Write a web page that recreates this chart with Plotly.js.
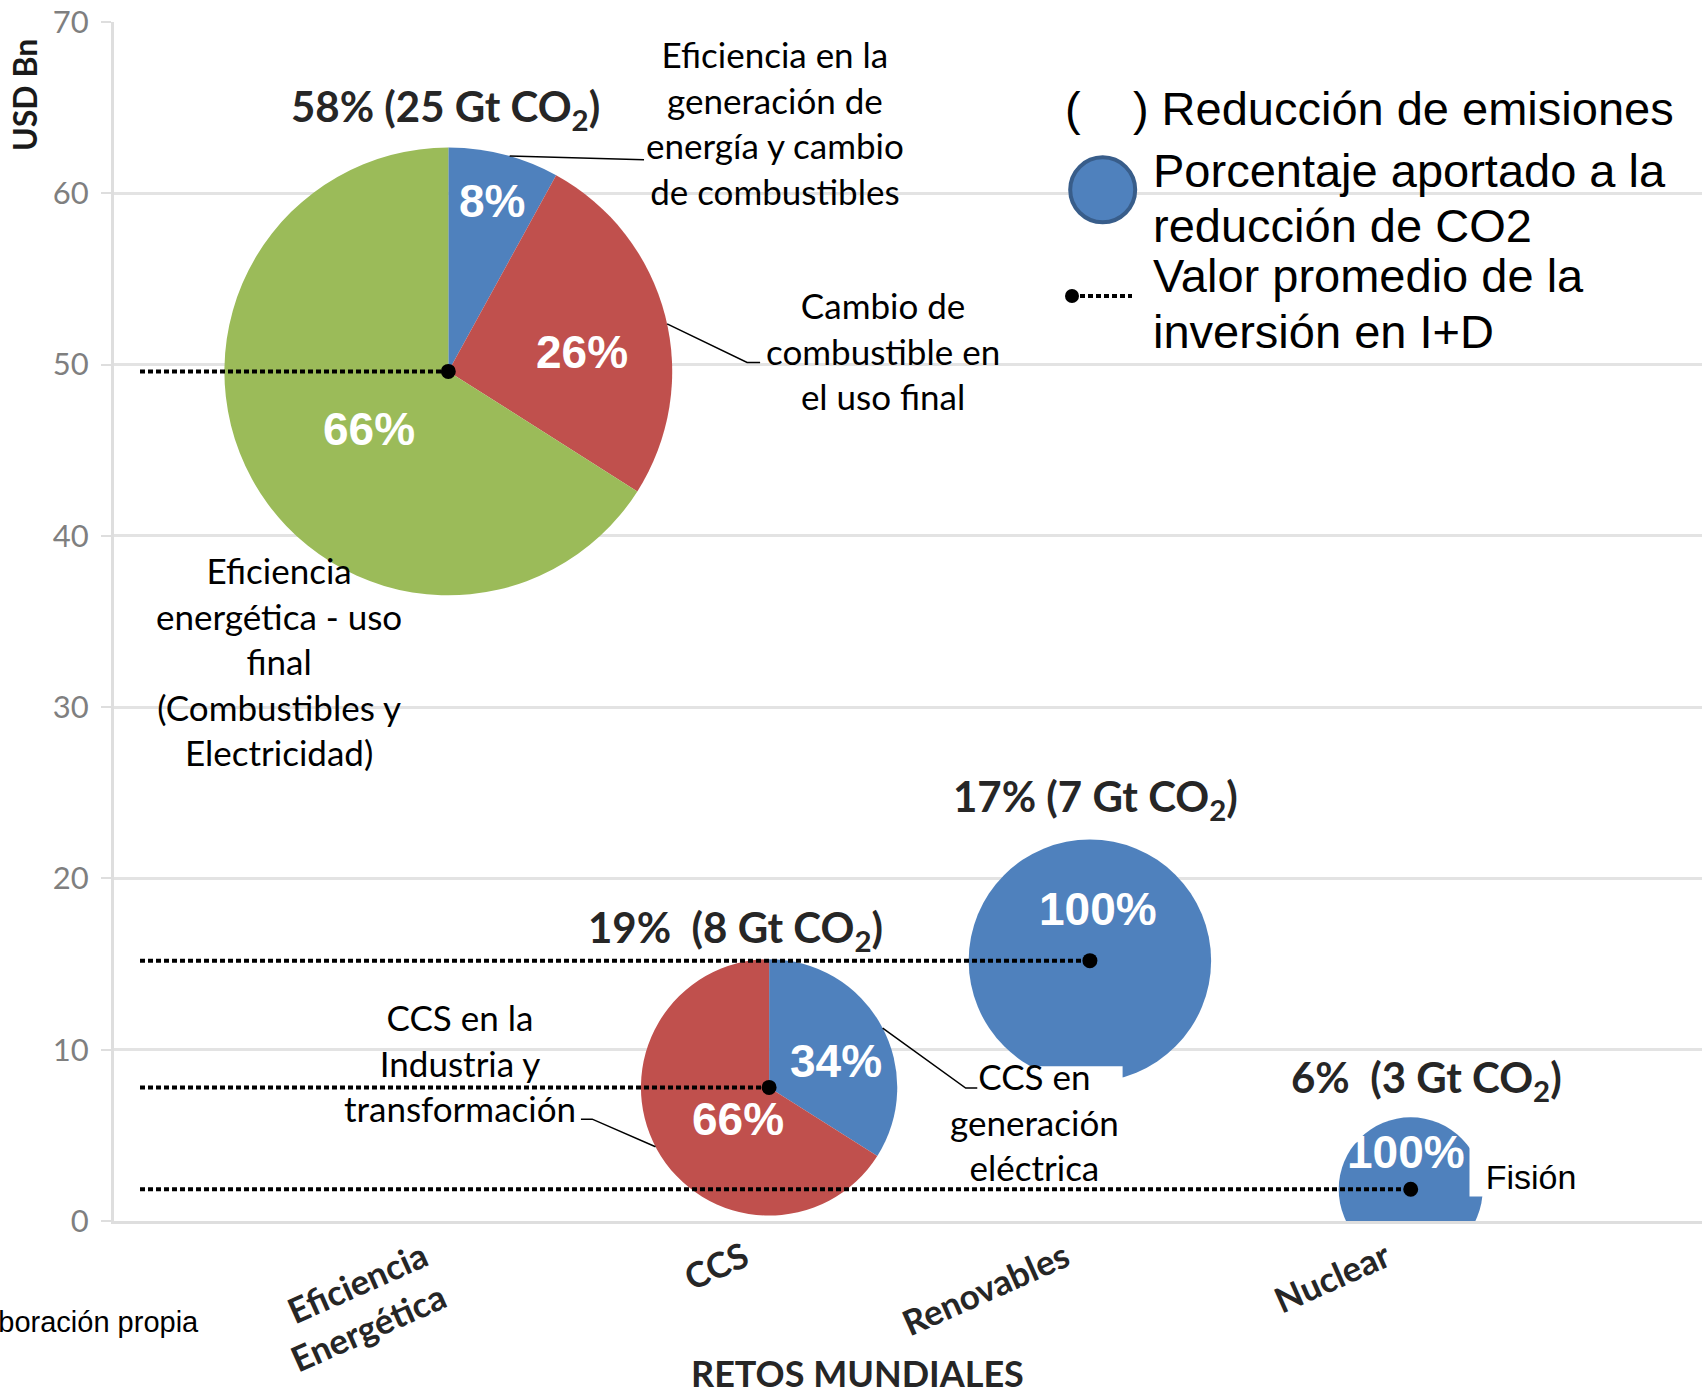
<!DOCTYPE html>
<html>
<head>
<meta charset="utf-8">
<script src="https://cdn.plot.ly/plotly-3.0.1.min.js"></script>
<style>
html,body{margin:0;padding:0;background:#fff;}
#chart{width:1702px;height:1394px;}
</style>
</head>
<body>
<div id="chart"></div>
<script>
// ================= DATA =================
const categories = ['Eficiencia<br>Energética', 'CCS', 'Renovables', 'Nuclear'];
const investment = [49.6, 7.8, 15.2, 1.85];      // USD Bn – valor promedio de la inversión en I+D
const shareReduction = [58, 19, 17, 6];          // % aportado a la reducción de emisiones
const gtReduction = [25, 8, 7, 3];               // Gt CO2
const effSliceLabels = ['Eficiencia en la generación de energía y cambio de combustibles',
                        'Cambio de combustible en el uso final',
                        'Eficiencia energética - uso final (Combustibles y Electricidad)'];
const effSliceValues = [8, 26, 66];
const ccsSliceLabels = ['CCS en generación eléctrica', 'CCS en la Industria y transformación'];
const ccsSliceValues = [34, 66];
const renSliceLabels = ['Renovables'];
const renSliceValues = [100];
const nucSliceLabels = ['Fisión'];
const nucSliceValues = [100];
const yTickVals = [0, 10, 20, 30, 40, 50, 60, 70];
const effLabelText = ['Eficiencia en la<br>generación de<br>energía y cambio<br>de combustibles',
                      'Cambio de<br>combustible en<br>el uso final',
                      'Eficiencia<br>energética - uso<br>final<br>(Combustibles y<br>Electricidad)'];
const ccsLabelText = ['CCS en<br>generación<br>eléctrica', 'CCS en la<br>Industria y<br>transformación'];
const nucLabelText = ['Fisión'];

// ================= STYLE / GEOMETRY =================
const BLUE = '#4F81BD', RED = '#C0504D', GREEN = '#9BBB59';
const W = 1702, H = 1394;
const M = {l: 114, r: 0, t: 22, b: 173, pad: 0};
const PW = W - M.l - M.r, PH = H - M.t - M.b;
const catStartPx = 448.3, catStepPx = 320.8;
const xRange = [-(catStartPx - M.l) / catStepPx, 0];
xRange[1] = xRange[0] + PW / catStepPx;
const yRange = [0, 70];
const xpx = v => M.l + (v - xRange[0]) / (xRange[1] - xRange[0]) * PW;
const ypx = v => M.t + (1 - (v - yRange[0]) / (yRange[1] - yRange[0])) * PH;
const pX = px => (px - M.l) / PW;
const pY = py => 1 - (py - M.t) / PH;
const K = 29.4;                                   // bubble area proportional to share
const radius = i => K * Math.sqrt(shareReduction[i]);
const centre = i => [xpx(i), ypx(investment[i])];

const groups = [
  {cat: 0, labels: effSliceLabels, values: effSliceValues, colors: [BLUE, RED, GREEN],
   pctOff: [[43.8, -170], [133.5, -19], [-79.5, 57.7]],
   text: effLabelText, textOff: [[326.5, -248.5], [434.5, -20.5], [-169.5, 290]],
   textMask: [null, null, null], textBox: [null, null, null]},
  {cat: 1, labels: ccsSliceLabels, values: ccsSliceValues, colors: [BLUE, RED],
   pctOff: [[66.5, -26.7], [-31, 32]],
   text: ccsLabelText, textOff: [[265.5, 33.8], [-308.9, -24.7]],
   textMask: [[-92, 88, -55, 62], null], textBox: [null, null]},
  {cat: 2, labels: renSliceLabels, values: renSliceValues, colors: [BLUE],
   pctOff: [[8.3, -51.7]], text: [], textOff: [], textMask: [], textBox: []},
  {cat: 3, labels: nucSliceLabels, values: nucSliceValues, colors: [BLUE],
   pctOff: [[-5, -37.6]], text: nucLabelText, textOff: [[120.5, -32]],
   textMask: [null], textBox: [{w: 122, h: 78, valign: 'bottom'}]}
];
const titleOff = [[-3, -39], [-34, -29], [6, -40], [16, -37]];   // relative to bubble top
const titleGap = [' ', '\u00a0 ', ' ', '\u00a0 '];
const leaders = [
  {cat: 0, angle: 15.9, pts: [[134.4, 3.6]]},
  {cat: 0, angle: 77.75, pts: [[80, 38.6], [93, 38.6]]},
  {cat: 1, angle: 62.4, pts: [[83, 60], [94.6, 60]]},
  {cat: 1, angle: 242.4, pts: [[-63.3, -27.6], [-74.6, -27.6]]}
];
const lineStartPx = 140;

const traces = [];
const shapes = [];
const annotations = [];

// ---- white masks behind some labels (drawn first, under the lines) ----
groups.forEach(g => {
  const [cx, cy] = centre(g.cat);
  g.textMask.forEach((m, k) => {
    if (!m) return;
    const lx = cx + g.textOff[k][0], ly = cy + g.textOff[k][1];
    shapes.push({type: 'rect', xref: 'paper', yref: 'paper',
      x0: pX(lx + m[0]), x1: pX(lx + m[1]), y0: pY(ly + m[3]), y1: pY(ly + m[2]),
      fillcolor: '#ffffff', line: {width: 0}, layer: 'above'});
  });
});

// ---- pies (multi-slice) & full bubbles ----
const fullX = [], fullY = [], fullS = [];
groups.forEach(g => {
  const [cx, cy] = centre(g.cat);
  const r = radius(g.cat);
  if (g.values.length > 1) {
    traces.push({
      type: 'pie', labels: g.labels, values: g.values, sort: false,
      direction: 'clockwise', rotation: 0, textinfo: 'none', showlegend: false,
      hoverinfo: 'label+percent',
      marker: {colors: g.colors, line: {width: 0}},
      domain: {x: [pX(cx - r), pX(cx + r)], y: [pY(cy + r), pY(cy - r)]}
    });
  } else {
    fullX.push(g.cat); fullY.push(investment[g.cat]); fullS.push(2 * r);
  }
});
traces.unshift({
  type: 'scatter', mode: 'markers', x: fullX, y: fullY, cliponaxis: true,
  marker: {size: fullS, sizemode: 'diameter', color: BLUE, opacity: 1, line: {width: 0}},
  hoverinfo: 'skip', showlegend: false
});

// ---- leader lines ----
leaders.forEach(ld => {
  const [cx, cy] = centre(ld.cat);
  const r = radius(ld.cat);
  const a = ld.angle * Math.PI / 180;
  const ax = cx + r * Math.sin(a), ay = cy - r * Math.cos(a);
  let path = `M${pX(ax)},${pY(ay)}`;
  ld.pts.forEach(p => { path += ` L${pX(ax + p[0])},${pY(ay + p[1])}`; });
  shapes.push({type: 'path', xref: 'paper', yref: 'paper', path: path,
    line: {color: '#000', width: 1.5}, layer: 'above'});
});

// ---- dotted average lines & dots ----
const lineStartX = xRange[0] + (lineStartPx - M.l) / catStepPx;
investment.forEach((v, i) => {
  shapes.push({type: 'line', xref: 'x', yref: 'y', x0: lineStartX, x1: i, y0: v, y1: v,
    line: {color: '#000', width: 4, dash: '5px,3px'}, layer: 'above'});
  shapes.push({type: 'circle', xref: 'x', yref: 'y', xsizemode: 'pixel', ysizemode: 'pixel',
    xanchor: i, yanchor: v, x0: -7.5, x1: 7.5, y0: -7.5, y1: 7.5,
    fillcolor: '#000', line: {width: 0}, layer: 'above'});
});

// ---- texts on / around bubbles ----
groups.forEach(g => {
  const [cx, cy] = centre(g.cat);
  const r = radius(g.cat);
  const sum = g.values.reduce((s, v) => s + v, 0);
  const i = g.cat;
  annotations.push({xref: 'paper', yref: 'paper', x: pX(cx + titleOff[i][0]), y: pY(cy - r + titleOff[i][1]),
    xanchor: 'center', yanchor: 'middle', showarrow: false,
    text: `${shareReduction[i]}%${titleGap[i]}(${gtReduction[i]} Gt CO<sub>2</sub>)`,
    font: {family: 'Lato', size: 42, color: '#262626', weight: 700}});
  g.values.forEach((v, k) => {
    annotations.push({xref: 'paper', yref: 'paper', x: pX(cx + g.pctOff[k][0]), y: pY(cy + g.pctOff[k][1]),
      xanchor: 'center', yanchor: 'middle', showarrow: false,
      text: Math.round(v / sum * 100) + '%',
      font: {family: 'Liberation Sans, Arial', size: 46, color: '#ffffff', weight: 700}});
  });
  g.text.forEach((t, k) => {
    const a = {xref: 'paper', yref: 'paper', x: pX(cx + g.textOff[k][0]), y: pY(cy + g.textOff[k][1]),
      xanchor: 'center', yanchor: 'middle', showarrow: false, align: 'center', text: t,
      font: {family: g.cat === 3 ? 'Liberation Sans, Arial' : 'Lato', size: g.cat === 3 ? 34 : 35, color: '#000'}};
    const b = g.textBox[k];
    if (b) { a.bgcolor = '#ffffff'; a.width = b.w; a.height = b.h; a.valign = b.valign; a.borderpad = 0; }
    annotations.push(a);
  });
});

// ---- legend ----
const LF = {family: 'Liberation Sans, Arial', size: 47, color: '#000'};
const legendLines = [
  ['(\u00a0\u00a0\u00a0\u00a0) Reducción de emisiones', 1063, 108.5],
  ['Porcentaje aportado a la', 1151, 170],
  ['reducción de CO2', 1151, 226],
  ['Valor promedio de la', 1151, 275],
  ['inversión en I+D', 1151, 331.5]
];
legendLines.forEach(l => annotations.push({xref: 'paper', yref: 'paper', x: pX(l[1]), y: pY(l[2]),
  xanchor: 'left', yanchor: 'middle', showarrow: false, text: l[0], font: LF}));
shapes.push({type: 'circle', xref: 'paper', yref: 'paper',
  x0: pX(1102.7 - 32.5), x1: pX(1102.7 + 32.5), y0: pY(189.8 + 32.5), y1: pY(189.8 - 32.5),
  fillcolor: BLUE, line: {color: '#385D8A', width: 4}, layer: 'above'});
shapes.push({type: 'line', xref: 'paper', yref: 'paper', x0: pX(1072), x1: pX(1132), y0: pY(296), y1: pY(296),
  line: {color: '#000', width: 4, dash: '5px,3px'}, layer: 'above'});
shapes.push({type: 'circle', xref: 'paper', yref: 'paper',
  x0: pX(1072 - 7), x1: pX(1072 + 7), y0: pY(296 + 7), y1: pY(296 - 7),
  fillcolor: '#000', line: {width: 0}, layer: 'above'});

// ---- axis titles / source ----
annotations.push({xref: 'paper', yref: 'paper', x: pX(24), y: pY(95), xanchor: 'center', yanchor: 'middle',
  showarrow: false, textangle: -90, text: 'USD Bn', font: {family: 'Lato', size: 32, color: '#1a1a1a', weight: 700}});
annotations.push({xref: 'paper', yref: 'paper', x: pX(857.6), y: pY(1373), xanchor: 'center', yanchor: 'middle',
  showarrow: false, text: 'RETOS MUNDIALES', font: {family: 'Lato', size: 36, color: '#262626', weight: 700}});
annotations.push({xref: 'paper', yref: 'paper', x: pX(201), y: pY(1322), xanchor: 'right', yanchor: 'middle',
  showarrow: false, text: 'Fuente: Elaboración propia', font: {family: 'Liberation Sans, Arial', size: 29, color: '#000'}});

const layout = {
  width: W, height: H, margin: M, paper_bgcolor: '#ffffff', plot_bgcolor: '#ffffff',
  showlegend: false,
  xaxis: {range: xRange, tickvals: [0, 1, 2, 3], ticktext: categories, tickangle: -24,
    ticklabelshift: -25,
    showgrid: false, zeroline: false, showline: true, linecolor: '#DEDEDE', linewidth: 3, ticks: '',
    tickfont: {family: 'Lato', size: 35, color: '#262626', weight: 700}, fixedrange: true},
  yaxis: {range: yRange, tickvals: yTickVals, showgrid: true, gridcolor: '#E3E3E3', gridwidth: 3,
    zeroline: false, showline: true, linecolor: '#DEDEDE', linewidth: 3,
    ticks: 'outside', ticklen: 10, tickcolor: '#DEDEDE', tickwidth: 2, ticklabelstandoff: 6,
    tickfont: {family: 'Lato', size: 31, color: '#7F7F7F'}, fixedrange: true},
  shapes: shapes,
  annotations: annotations
};

Plotly.newPlot('chart', traces, layout, {displayModeBar: false, staticPlot: true});
</script>
</body>
</html>
